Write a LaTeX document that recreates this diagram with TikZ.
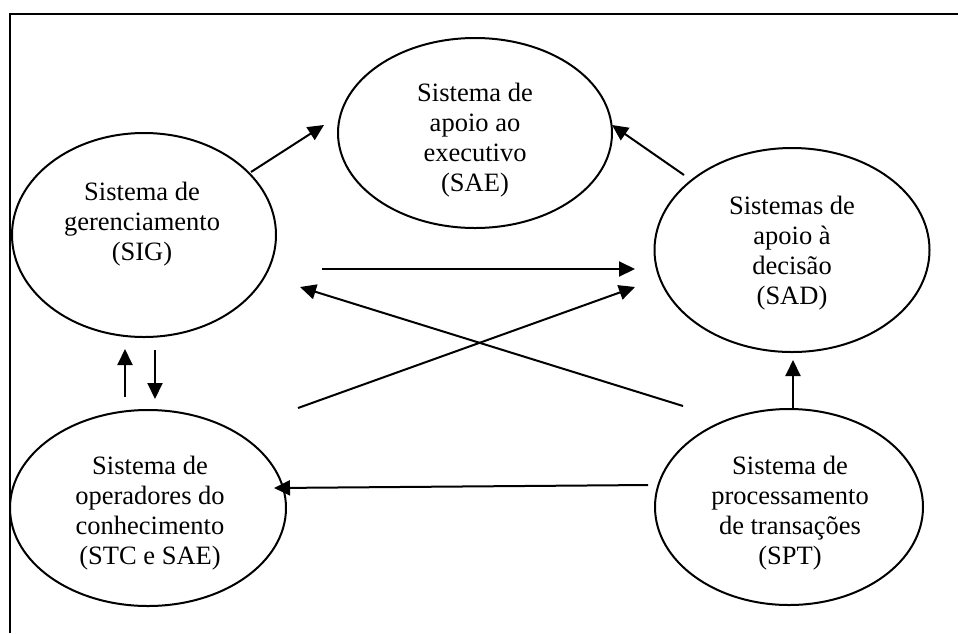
\documentclass[tikz,border=0pt]{standalone}
\usepackage{fontspec}
\setmainfont{Liberation Serif}
\usetikzlibrary{arrows.meta,shapes.geometric}
\begin{document}
\begin{tikzpicture}[x=1pt,y=-1pt,
  sysbox/.style={draw,ellipse,line width=2pt,inner sep=0pt},
  systext/.style={align=center,font=\fontsize{26.5}{30}\selectfont,inner sep=0pt},
  flow/.style={line width=2pt,-{Triangle[length=16pt,width=15pt]}},
  frameline/.style={line width=2.4pt}]
\useasboundingbox (0,0) rectangle (958,633);
% outer frame (top and left edges only)
\coordinate (fa) at (10,633);
\coordinate (fb) at (10,14);
\coordinate (fc) at (958,14);
\draw[frameline] (fa) -- (fb) -- (fc);

% system ellipses
\node[sysbox,minimum width=274pt,minimum height=190pt] (sae) at (475,133) {};
\node[sysbox,minimum width=264pt,minimum height=204pt] (sig) at (144,235) {};
\node[sysbox,minimum width=275pt,minimum height=204pt] (sad) at (792,250) {};
\node[sysbox,minimum width=276pt,minimum height=196pt] (stc) at (148,508) {};
\node[sysbox,minimum width=268pt,minimum height=196pt] (spt) at (789,507) {};

% labels
\node[systext] (saeT) at (475,140) {Sistema de\\apoio ao\\executivo\\(SAE)};
\node[systext] (sigT) at (142,224) {Sistema de\\gerenciamento\\(SIG)};
\node[systext] (sadT) at (792,253) {Sistemas de\\apoio à\\decisão\\(SAD)};
\node[systext] (stcT) at (150,513) {Sistema de\\operadores do\\conhecimento\\(STC e SAE)};
\node[systext] (sptT) at (790,513) {Sistema de\\processamento\\de transações\\(SPT)};

% arrow end points
\coordinate (a1s) at (251,172);
\coordinate (a1e) at (324,125);
\coordinate (a2s) at (684,175);
\coordinate (a2e) at (612,125);
\coordinate (a3s) at (322,269);
\coordinate (a3e) at (635,269);
\coordinate (a4s) at (298,408);
\coordinate (a4e) at (635,287);
\coordinate (a5s) at (683,406);
\coordinate (a5e) at (300,287);
\coordinate (a6s) at (793,408);
\coordinate (a6e) at (793,360);
\coordinate (a7s) at (648,485);
\coordinate (a7e) at (274,488);
\coordinate (a8s) at (125,397);
\coordinate (a8e) at (125,349);
\coordinate (a9s) at (155,350);
\coordinate (a9e) at (155,399);

\draw[flow] (a1s) -- (a1e);
\draw[flow] (a2s) -- (a2e);
\draw[flow] (a3s) -- (a3e);
\draw[flow] (a4s) -- (a4e);
\draw[flow] (a5s) -- (a5e);
\draw[flow] (a6s) -- (a6e);
\draw[flow] (a7s) -- (a7e);
\draw[flow] (a8s) -- (a8e);
\draw[flow] (a9s) -- (a9e);
\end{tikzpicture}
\end{document}
